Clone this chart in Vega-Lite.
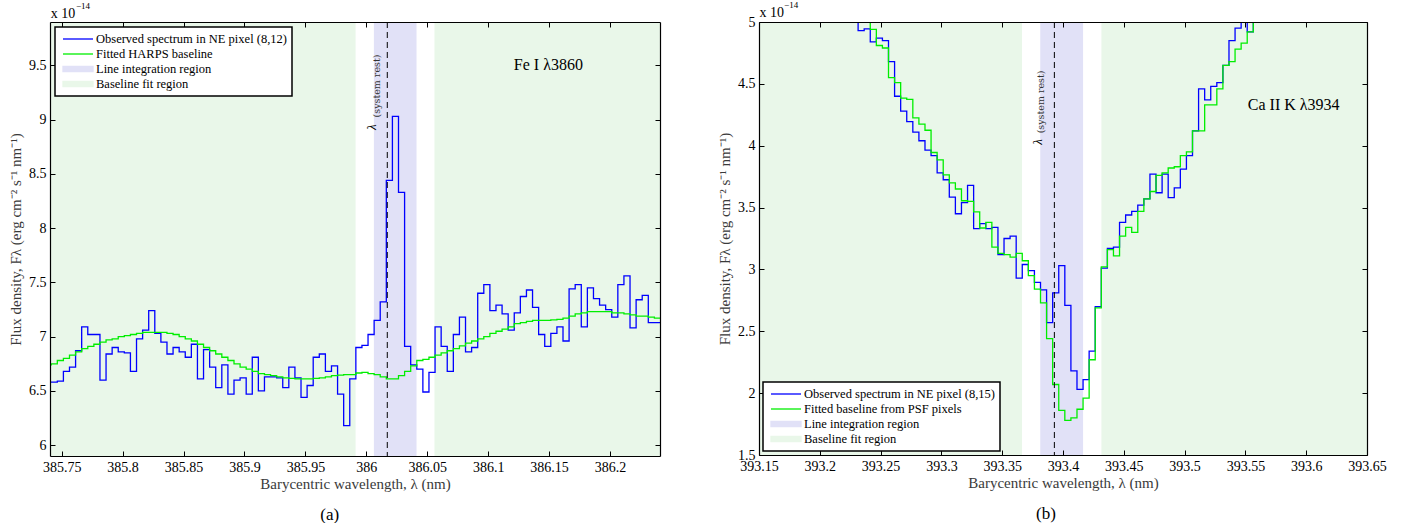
{
  "$schema": "https://vega.github.io/schema/vega-lite/v6.json",
  "background": "white",
  "padding": {"left": 8, "top": 0, "right": 0, "bottom": 0},
  "spacing": 56,
  "resolve": {"scale": {"color": "independent"}, "legend": {"color": "independent"}},
  "config": {
    "font": "Liberation Serif",
    "view": {"stroke": null},
    "axis": {
      "domainColor": "black", "domainWidth": 1.2, "tickColor": "black", "tickWidth": 1, "tickSize": -5,
      "labelColor": "black", "labelFont": "Liberation Serif", "labelFontSize": 14, "labelPadding": 9,
      "labelFlush": false, "labelOverlap": false, "labelBound": false,
      "titleFont": "Liberation Serif", "titleFontSize": 15, "titleFontWeight": "normal", "titleColor": "#3a3a3a",
      "grid": false
    },
    "legend": {
      "padding": 5, "strokeColor": "black", "fillColor": "white", "zindex": 2,
      "labelFont": "Liberation Serif", "labelFontSize": 12.5, "labelColor": "black", "labelLimit": 400,
      "symbolSize": 144, "symbolOffset": 11, "labelOffset": 11, "rowPadding": 1
    },
    "text": {"color": "black", "font": "Liberation Serif"}
  },
  "hconcat": [
    {
      "width": 610,
      "height": 434,
      "resolve": {"axis": {"x": "independent", "y": "independent"}},
      "layer": [
        {
          "data": {"values": [
            {"w": 385.7404, "w2": 385.9912, "r": "base"},
            {"w": 386.0559, "w2": 386.241, "r": "base"},
            {"w": 386.0062, "w2": 386.0412, "r": "int"}
          ]},
          "mark": {"type": "rect"},
          "encoding": {
            "x": {"field": "w", "type": "quantitative", "scale": {"domain": [385.7404, 386.241], "nice": false, "zero": false},
                  "axis": {"orient": "top", "zindex": 1, "labels": false, "title": null, "values": [385.75, 385.8, 385.85, 385.9, 385.95, 386, 386.05, 386.1, 386.15, 386.2]}},
            "x2": {"field": "w2"},
            "color": {"field": "r", "type": "nominal",
              "scale": {"domain": ["obs", "fit", "int", "base"], "range": ["#0000ff", "#00ee00", "#e1e1f7", "#e9f7e9"]},
              "legend": {
                "title": null, "orient": "top-left", "offset": 5,
                "labelExpr": "datum.value === 'obs' ? 'Observed spectrum in NE pixel (8,12)' : datum.value === 'fit' ? 'Fitted HARPS baseline' : datum.value === 'int' ? 'Line integration region' : 'Baseline fit region'",
                "encode": {
                  "legend": {"update": {"strokeWidth": {"value": 1.5}}},
                  "symbols": {"update": {
                    "shape": {"signal": "datum.value === 'obs' || datum.value === 'fit' ? 'M-2.5,0H2.5' : 'M-2.5,-0.45H2.5V0.45H-2.5Z'"},
                    "fill": {"signal": "datum.value === 'int' ? '#e1e1f7' : datum.value === 'base' ? '#e9f7e9' : 'transparent'"},
                    "stroke": {"signal": "datum.value === 'obs' ? '#0000ff' : datum.value === 'fit' ? '#00ee00' : 'transparent'"},
                    "strokeWidth": {"value": 1.3},
                    "opacity": {"value": 1}
                  }}
                }
              }}
          }
        },
        {
          "data": {"values": [
            {"w": 385.7364, "obs": 6.58, "fit": 6.74},
            {"w": 385.7414, "obs": 6.58, "fit": 6.75},
            {"w": 385.7464, "obs": 6.59, "fit": 6.78},
            {"w": 385.7514, "obs": 6.68, "fit": 6.80},
            {"w": 385.7564, "obs": 6.72, "fit": 6.83},
            {"w": 385.7614, "obs": 6.87, "fit": 6.86},
            {"w": 385.7664, "obs": 7.09, "fit": 6.89},
            {"w": 385.7714, "obs": 7.02, "fit": 6.91},
            {"w": 385.7764, "obs": 7.02, "fit": 6.93},
            {"w": 385.7814, "obs": 6.60, "fit": 6.95},
            {"w": 385.7864, "obs": 6.84, "fit": 6.97},
            {"w": 385.7914, "obs": 6.90, "fit": 6.98},
            {"w": 385.7964, "obs": 6.86, "fit": 7.00},
            {"w": 385.8014, "obs": 6.85, "fit": 7.01},
            {"w": 385.8064, "obs": 6.68, "fit": 7.02},
            {"w": 385.8114, "obs": 6.98, "fit": 7.03},
            {"w": 385.8164, "obs": 7.06, "fit": 7.04},
            {"w": 385.8214, "obs": 7.24, "fit": 7.04},
            {"w": 385.8264, "obs": 7.03, "fit": 7.04},
            {"w": 385.8314, "obs": 6.95, "fit": 7.04},
            {"w": 385.8364, "obs": 6.84, "fit": 7.03},
            {"w": 385.8414, "obs": 6.90, "fit": 7.02},
            {"w": 385.8464, "obs": 6.86, "fit": 7.00},
            {"w": 385.8514, "obs": 6.81, "fit": 6.98},
            {"w": 385.8564, "obs": 6.93, "fit": 6.96},
            {"w": 385.8614, "obs": 6.61, "fit": 6.93},
            {"w": 385.8664, "obs": 6.88, "fit": 6.90},
            {"w": 385.8714, "obs": 6.72, "fit": 6.87},
            {"w": 385.8764, "obs": 6.53, "fit": 6.84},
            {"w": 385.8814, "obs": 6.74, "fit": 6.81},
            {"w": 385.8864, "obs": 6.47, "fit": 6.78},
            {"w": 385.8914, "obs": 6.60, "fit": 6.75},
            {"w": 385.8964, "obs": 6.62, "fit": 6.72},
            {"w": 385.9014, "obs": 6.47, "fit": 6.70},
            {"w": 385.9064, "obs": 6.81, "fit": 6.68},
            {"w": 385.9114, "obs": 6.50, "fit": 6.66},
            {"w": 385.9164, "obs": 6.63, "fit": 6.65},
            {"w": 385.9214, "obs": 6.63, "fit": 6.64},
            {"w": 385.9264, "obs": 6.62, "fit": 6.63},
            {"w": 385.9314, "obs": 6.53, "fit": 6.62},
            {"w": 385.9364, "obs": 6.72, "fit": 6.615},
            {"w": 385.9414, "obs": 6.62, "fit": 6.61},
            {"w": 385.9464, "obs": 6.44, "fit": 6.61},
            {"w": 385.9514, "obs": 6.55, "fit": 6.61},
            {"w": 385.9564, "obs": 6.81, "fit": 6.615},
            {"w": 385.9614, "obs": 6.84, "fit": 6.62},
            {"w": 385.9664, "obs": 6.68, "fit": 6.63},
            {"w": 385.9714, "obs": 6.73, "fit": 6.64},
            {"w": 385.9764, "obs": 6.47, "fit": 6.645},
            {"w": 385.9814, "obs": 6.18, "fit": 6.65},
            {"w": 385.9864, "obs": 6.61, "fit": 6.65},
            {"w": 385.9914, "obs": 6.90, "fit": 6.665},
            {"w": 385.9964, "obs": 6.92, "fit": 6.67},
            {"w": 386.0014, "obs": 7.02, "fit": 6.66},
            {"w": 386.0064, "obs": 7.15, "fit": 6.65},
            {"w": 386.0114, "obs": 7.32, "fit": 6.63},
            {"w": 386.0164, "obs": 8.44, "fit": 6.61},
            {"w": 386.0214, "obs": 9.03, "fit": 6.61},
            {"w": 386.0264, "obs": 8.33, "fit": 6.64},
            {"w": 386.0314, "obs": 6.91, "fit": 6.68},
            {"w": 386.0364, "obs": 6.74, "fit": 6.73},
            {"w": 386.0414, "obs": 6.70, "fit": 6.78},
            {"w": 386.0464, "obs": 6.49, "fit": 6.79},
            {"w": 386.0514, "obs": 6.67, "fit": 6.81},
            {"w": 386.0564, "obs": 7.09, "fit": 6.83},
            {"w": 386.0614, "obs": 6.91, "fit": 6.85},
            {"w": 386.0664, "obs": 6.68, "fit": 6.87},
            {"w": 386.0714, "obs": 7.02, "fit": 6.89},
            {"w": 386.0764, "obs": 7.18, "fit": 6.915},
            {"w": 386.0814, "obs": 6.86, "fit": 6.94},
            {"w": 386.0864, "obs": 6.90, "fit": 6.96},
            {"w": 386.0914, "obs": 7.40, "fit": 6.98},
            {"w": 386.0964, "obs": 7.48, "fit": 7.00},
            {"w": 386.1014, "obs": 7.24, "fit": 7.03},
            {"w": 386.1064, "obs": 7.29, "fit": 7.05},
            {"w": 386.1114, "obs": 7.21, "fit": 7.07},
            {"w": 386.1164, "obs": 7.06, "fit": 7.09},
            {"w": 386.1214, "obs": 7.22, "fit": 7.12},
            {"w": 386.1264, "obs": 7.37, "fit": 7.13},
            {"w": 386.1314, "obs": 7.43, "fit": 7.14},
            {"w": 386.1364, "obs": 7.27, "fit": 7.15},
            {"w": 386.1414, "obs": 7.02, "fit": 7.15},
            {"w": 386.1464, "obs": 6.91, "fit": 7.15},
            {"w": 386.1514, "obs": 7.03, "fit": 7.155},
            {"w": 386.1564, "obs": 7.09, "fit": 7.16},
            {"w": 386.1614, "obs": 6.96, "fit": 7.17},
            {"w": 386.1664, "obs": 7.44, "fit": 7.19},
            {"w": 386.1714, "obs": 7.48, "fit": 7.21},
            {"w": 386.1764, "obs": 7.09, "fit": 7.22},
            {"w": 386.1814, "obs": 7.45, "fit": 7.23},
            {"w": 386.1864, "obs": 7.35, "fit": 7.23},
            {"w": 386.1914, "obs": 7.29, "fit": 7.23},
            {"w": 386.1964, "obs": 7.25, "fit": 7.23},
            {"w": 386.2014, "obs": 7.18, "fit": 7.22},
            {"w": 386.2064, "obs": 7.48, "fit": 7.22},
            {"w": 386.2114, "obs": 7.56, "fit": 7.21},
            {"w": 386.2164, "obs": 7.08, "fit": 7.20},
            {"w": 386.2214, "obs": 7.34, "fit": 7.19},
            {"w": 386.2264, "obs": 7.38, "fit": 7.19},
            {"w": 386.2314, "obs": 7.13, "fit": 7.18},
            {"w": 386.2364, "obs": 7.13, "fit": 7.17},
            {"w": 386.2414, "obs": 7.13, "fit": 7.17}
          ]},
          "transform": [{"fold": ["obs", "fit"], "as": ["r", "f"]}],
          "mark": {"type": "line", "interpolate": "step-after", "clip": true, "strokeWidth": 1.3, "strokeJoin": "miter"},
          "encoding": {
            "x": {"field": "w", "type": "quantitative", "scale": {"domain": [385.7404, 386.241], "nice": false, "zero": false},
                  "axis": {"orient": "bottom", "zindex": 1, "title": "Barycentric wavelength, λ  (nm)", "titlePadding": 2, "labelExpr": "datum.value",
                           "values": [385.75, 385.8, 385.85, 385.9, 385.95, 386, 386.05, 386.1, 386.15, 386.2]}},
            "y": {"field": "f", "type": "quantitative", "scale": {"domain": [5.9, 9.9], "nice": false, "zero": false},
                  "axis": {"orient": "left", "zindex": 1, "title": "Flux density, Fλ  (erg cm⁻² s⁻¹ nm⁻¹)", "titlePadding": 5, "labelExpr": "datum.value",
                           "values": [6, 6.5, 7, 7.5, 8, 8.5, 9, 9.5]}},
            "color": {"field": "r", "type": "nominal",
              "scale": {"domain": ["obs", "fit", "int", "base"], "range": ["#0000ff", "#00ee00", "#e1e1f7", "#e9f7e9"]},
              "legend": {
                "title": null, "orient": "top-left", "offset": 5,
                "labelExpr": "datum.value === 'obs' ? 'Observed spectrum in NE pixel (8,12)' : datum.value === 'fit' ? 'Fitted HARPS baseline' : datum.value === 'int' ? 'Line integration region' : 'Baseline fit region'",
                "encode": {
                  "legend": {"update": {"strokeWidth": {"value": 1.5}}},
                  "symbols": {"update": {
                    "shape": {"signal": "datum.value === 'obs' || datum.value === 'fit' ? 'M-2.5,0H2.5' : 'M-2.5,-0.45H2.5V0.45H-2.5Z'"},
                    "fill": {"signal": "datum.value === 'int' ? '#e1e1f7' : datum.value === 'base' ? '#e9f7e9' : 'transparent'"},
                    "stroke": {"signal": "datum.value === 'obs' ? '#0000ff' : datum.value === 'fit' ? '#00ee00' : 'transparent'"},
                    "strokeWidth": {"value": 1.3},
                    "opacity": {"value": 1}
                  }}
                }
              }}
          }
        },
        {
          "data": {"values": [{"w": 386.0172}]},
          "mark": {"type": "rule", "color": "black", "strokeWidth": 1, "strokeDash": [6, 4]},
          "encoding": {"x": {"field": "w", "type": "quantitative", "scale": {"domain": [385.7404, 386.241], "nice": false, "zero": false}, "axis": null}}
        },
        {
          "data": {"values": [{"w": 386.1494, "f": 9.5, "t": "Fe I λ3860"}]},
          "mark": {"type": "text", "fontSize": 16, "align": "center", "baseline": "middle"},
          "encoding": {
            "x": {"field": "w", "type": "quantitative", "scale": {"domain": [385.7404, 386.241], "nice": false, "zero": false}, "axis": null},
            "y": {"field": "f", "type": "quantitative", "scale": {"domain": [5.9, 9.9], "nice": false, "zero": false},
                  "axis": {"orient": "right", "zindex": 1, "labels": false, "title": null, "values": [6, 6.5, 7, 7.5, 8, 8.5, 9, 9.5]}},
            "text": {"field": "t"}
          }
        },
        {
          "data": {"values": [{"w": 386.0047, "f": 8.93, "t": "λ"}]},
          "mark": {"type": "text", "fontSize": 13, "fontStyle": "italic", "angle": 270, "align": "center", "baseline": "middle"},
          "encoding": {
            "x": {"field": "w", "type": "quantitative", "scale": {"domain": [385.7404, 386.241], "nice": false, "zero": false}, "axis": null},
            "y": {"field": "f", "type": "quantitative", "scale": {"domain": [5.9, 9.9], "nice": false, "zero": false}, "axis": null},
            "text": {"field": "t"}
          }
        },
        {
          "data": {"values": [{"w": 386.0085, "f": 9.31, "t": "(system rest)"}]},
          "mark": {"type": "text", "font": "DejaVu Serif", "fontSize": 9.5, "angle": 270, "align": "center", "baseline": "middle", "color": "#333"},
          "encoding": {
            "x": {"field": "w", "type": "quantitative", "scale": {"domain": [385.7404, 386.241], "nice": false, "zero": false}, "axis": null},
            "y": {"field": "f", "type": "quantitative", "scale": {"domain": [5.9, 9.9], "nice": false, "zero": false}, "axis": null},
            "text": {"field": "t"}
          }
        },
        {
          "data": {"values": [{"w": 385.741, "f": 9.974, "t": "x 10"}]},
          "mark": {"type": "text", "fontSize": 14, "align": "left", "baseline": "middle"},
          "encoding": {
            "x": {"field": "w", "type": "quantitative", "scale": {"domain": [385.7404, 386.241], "nice": false, "zero": false}, "axis": null},
            "y": {"field": "f", "type": "quantitative", "scale": {"domain": [5.9, 9.9], "nice": false, "zero": false}, "axis": null},
            "text": {"field": "t"}
          }
        },
        {
          "data": {"values": [{"w": 385.7617, "f": 10.047, "t": "−14"}]},
          "mark": {"type": "text", "fontSize": 9, "align": "left", "baseline": "middle"},
          "encoding": {
            "x": {"field": "w", "type": "quantitative", "scale": {"domain": [385.7404, 386.241], "nice": false, "zero": false}, "axis": null},
            "y": {"field": "f", "type": "quantitative", "scale": {"domain": [5.9, 9.9], "nice": false, "zero": false}, "axis": null},
            "text": {"field": "t"}
          }
        },
        {
          "data": {"values": [{"w": 385.97, "f": 5.357, "t": "(a)"}]},
          "mark": {"type": "text", "fontSize": 17, "align": "center", "baseline": "middle"},
          "encoding": {
            "x": {"field": "w", "type": "quantitative", "scale": {"domain": [385.7404, 386.241], "nice": false, "zero": false}, "axis": null},
            "y": {"field": "f", "type": "quantitative", "scale": {"domain": [5.9, 9.9], "nice": false, "zero": false}, "axis": null},
            "text": {"field": "t"}
          }
        }
      ]
    },
    {
      "width": 608,
      "height": 433,
      "resolve": {"axis": {"x": "independent", "y": "independent"}},
      "layer": [
        {
          "data": {"values": [
            {"w": 393.15, "w2": 393.3663, "r": "base"},
            {"w": 393.4316, "w2": 393.65, "r": "base"},
            {"w": 393.3813, "w2": 393.4165, "r": "int"}
          ]},
          "mark": {"type": "rect"},
          "encoding": {
            "x": {"field": "w", "type": "quantitative", "scale": {"domain": [393.15, 393.65], "nice": false, "zero": false},
                  "axis": {"orient": "top", "zindex": 1, "labels": false, "title": null, "values": [393.15, 393.2, 393.25, 393.3, 393.35, 393.4, 393.45, 393.5, 393.55, 393.6, 393.65]}},
            "x2": {"field": "w2"},
            "color": {"field": "r", "type": "nominal",
              "scale": {"domain": ["obs", "fit", "int", "base"], "range": ["#0000ff", "#00ee00", "#e1e1f7", "#e9f7e9"]},
              "legend": {
                "title": null, "orient": "bottom-left", "offset": 4,
                "labelExpr": "datum.value === 'obs' ? 'Observed spectrum in NE pixel (8,15)' : datum.value === 'fit' ? 'Fitted baseline from PSF pixels' : datum.value === 'int' ? 'Line integration region' : 'Baseline fit region'",
                "encode": {
                  "legend": {"update": {"strokeWidth": {"value": 1.5}}},
                  "symbols": {"update": {
                    "shape": {"signal": "datum.value === 'obs' || datum.value === 'fit' ? 'M-2.5,0H2.5' : 'M-2.5,-0.45H2.5V0.45H-2.5Z'"},
                    "fill": {"signal": "datum.value === 'int' ? '#e1e1f7' : datum.value === 'base' ? '#e9f7e9' : 'transparent'"},
                    "stroke": {"signal": "datum.value === 'obs' ? '#0000ff' : datum.value === 'fit' ? '#00ee00' : 'transparent'"},
                    "strokeWidth": {"value": 1.3},
                    "opacity": {"value": 1}
                  }}
                }
              }}
          }
        },
        {
          "data": {"values": [
            {"w": 393.2265, "obs": 5.10, "fit": 5.15},
            {"w": 393.2315, "obs": 4.93, "fit": 5.10},
            {"w": 393.2365, "obs": 4.945, "fit": 5.04},
            {"w": 393.2415, "obs": 4.84, "fit": 4.94},
            {"w": 393.2465, "obs": 4.87, "fit": 4.81},
            {"w": 393.2515, "obs": 4.85, "fit": 4.79},
            {"w": 393.2565, "obs": 4.68, "fit": 4.55},
            {"w": 393.2615, "obs": 4.40, "fit": 4.51},
            {"w": 393.2665, "obs": 4.28, "fit": 4.385},
            {"w": 393.2715, "obs": 4.195, "fit": 4.375},
            {"w": 393.2765, "obs": 4.11, "fit": 4.225},
            {"w": 393.2815, "obs": 4.04, "fit": 4.175},
            {"w": 393.2865, "obs": 3.965, "fit": 4.125},
            {"w": 393.2915, "obs": 3.92, "fit": 3.945},
            {"w": 393.2965, "obs": 3.78, "fit": 3.885},
            {"w": 393.3015, "obs": 3.725, "fit": 3.765},
            {"w": 393.3065, "obs": 3.585, "fit": 3.70},
            {"w": 393.3115, "obs": 3.45, "fit": 3.65},
            {"w": 393.3165, "obs": 3.54, "fit": 3.555},
            {"w": 393.3215, "obs": 3.68, "fit": 3.55},
            {"w": 393.3265, "obs": 3.33, "fit": 3.465},
            {"w": 393.3315, "obs": 3.37, "fit": 3.335},
            {"w": 393.3365, "obs": 3.33, "fit": 3.38},
            {"w": 393.3415, "obs": 3.34, "fit": 3.18},
            {"w": 393.3465, "obs": 3.12, "fit": 3.13},
            {"w": 393.3515, "obs": 3.25, "fit": 3.12},
            {"w": 393.3565, "obs": 3.27, "fit": 3.10},
            {"w": 393.3615, "obs": 2.93, "fit": 3.13},
            {"w": 393.3665, "obs": 3.04, "fit": 3.07},
            {"w": 393.3715, "obs": 2.99, "fit": 2.95},
            {"w": 393.3765, "obs": 2.895, "fit": 2.84},
            {"w": 393.3815, "obs": 2.835, "fit": 2.73},
            {"w": 393.3865, "obs": 2.57, "fit": 2.44},
            {"w": 393.3915, "obs": 2.81, "fit": 2.07},
            {"w": 393.3965, "obs": 3.03, "fit": 1.86},
            {"w": 393.4015, "obs": 2.71, "fit": 1.78},
            {"w": 393.4065, "obs": 2.18, "fit": 1.80},
            {"w": 393.4115, "obs": 2.03, "fit": 1.87},
            {"w": 393.4165, "obs": 2.11, "fit": 1.96},
            {"w": 393.4215, "obs": 2.34, "fit": 2.27},
            {"w": 393.4265, "obs": 2.70, "fit": 2.69},
            {"w": 393.4315, "obs": 3.01, "fit": 3.02},
            {"w": 393.4365, "obs": 3.17, "fit": 3.16},
            {"w": 393.4415, "obs": 3.18, "fit": 3.11},
            {"w": 393.4465, "obs": 3.38, "fit": 3.27},
            {"w": 393.4515, "obs": 3.44, "fit": 3.34},
            {"w": 393.4565, "obs": 3.47, "fit": 3.30},
            {"w": 393.4615, "obs": 3.52, "fit": 3.47},
            {"w": 393.4665, "obs": 3.57, "fit": 3.57},
            {"w": 393.4715, "obs": 3.77, "fit": 3.63},
            {"w": 393.4765, "obs": 3.62, "fit": 3.76},
            {"w": 393.4815, "obs": 3.77, "fit": 3.78},
            {"w": 393.4865, "obs": 3.58, "fit": 3.82},
            {"w": 393.4915, "obs": 3.66, "fit": 3.83},
            {"w": 393.4965, "obs": 3.81, "fit": 3.92},
            {"w": 393.5015, "obs": 3.92, "fit": 3.95},
            {"w": 393.5065, "obs": 4.12, "fit": 4.12},
            {"w": 393.5115, "obs": 4.46, "fit": 4.12},
            {"w": 393.5165, "obs": 4.37, "fit": 4.33},
            {"w": 393.5215, "obs": 4.48, "fit": 4.33},
            {"w": 393.5265, "obs": 4.51, "fit": 4.46},
            {"w": 393.5315, "obs": 4.65, "fit": 4.65},
            {"w": 393.5365, "obs": 4.85, "fit": 4.68},
            {"w": 393.5415, "obs": 4.95, "fit": 4.78},
            {"w": 393.5465, "obs": 5.03, "fit": 4.83},
            {"w": 393.5515, "obs": 4.92, "fit": 4.92},
            {"w": 393.5565, "obs": 5.05, "fit": 5.05},
            {"w": 393.5615, "obs": 5.10, "fit": 5.10}
          ]},
          "transform": [{"fold": ["obs", "fit"], "as": ["r", "f"]}],
          "mark": {"type": "line", "interpolate": "step-after", "clip": true, "strokeWidth": 1.3, "strokeJoin": "miter"},
          "encoding": {
            "x": {"field": "w", "type": "quantitative", "scale": {"domain": [393.15, 393.65], "nice": false, "zero": false},
                  "axis": {"orient": "bottom", "zindex": 1, "title": "Barycentric wavelength, λ  (nm)", "titlePadding": 2, "labelExpr": "datum.value",
                           "values": [393.15, 393.2, 393.25, 393.3, 393.35, 393.4, 393.45, 393.5, 393.55, 393.6, 393.65]}},
            "y": {"field": "f", "type": "quantitative", "scale": {"domain": [1.5, 5], "nice": false, "zero": false},
                  "axis": {"orient": "left", "zindex": 1, "title": "Flux density, Fλ  (erg cm⁻² s⁻¹ nm⁻¹)", "titlePadding": 5, "labelExpr": "datum.value",
                           "values": [1.5, 2, 2.5, 3, 3.5, 4, 4.5, 5]}},
            "color": {"field": "r", "type": "nominal",
              "scale": {"domain": ["obs", "fit", "int", "base"], "range": ["#0000ff", "#00ee00", "#e1e1f7", "#e9f7e9"]},
              "legend": {
                "title": null, "orient": "bottom-left", "offset": 4,
                "labelExpr": "datum.value === 'obs' ? 'Observed spectrum in NE pixel (8,15)' : datum.value === 'fit' ? 'Fitted baseline from PSF pixels' : datum.value === 'int' ? 'Line integration region' : 'Baseline fit region'",
                "encode": {
                  "legend": {"update": {"strokeWidth": {"value": 1.5}}},
                  "symbols": {"update": {
                    "shape": {"signal": "datum.value === 'obs' || datum.value === 'fit' ? 'M-2.5,0H2.5' : 'M-2.5,-0.45H2.5V0.45H-2.5Z'"},
                    "fill": {"signal": "datum.value === 'int' ? '#e1e1f7' : datum.value === 'base' ? '#e9f7e9' : 'transparent'"},
                    "stroke": {"signal": "datum.value === 'obs' ? '#0000ff' : datum.value === 'fit' ? '#00ee00' : 'transparent'"},
                    "strokeWidth": {"value": 1.3},
                    "opacity": {"value": 1}
                  }}
                }
              }}
          }
        },
        {
          "data": {"values": [{"w": 393.3929}]},
          "mark": {"type": "rule", "color": "black", "strokeWidth": 1, "strokeDash": [6, 4]},
          "encoding": {"x": {"field": "w", "type": "quantitative", "scale": {"domain": [393.15, 393.65], "nice": false, "zero": false}, "axis": null}}
        },
        {
          "data": {"values": [{"w": 393.5897, "f": 4.33, "t": "Ca II K λ3934"}]},
          "mark": {"type": "text", "fontSize": 16, "align": "center", "baseline": "middle"},
          "encoding": {
            "x": {"field": "w", "type": "quantitative", "scale": {"domain": [393.15, 393.65], "nice": false, "zero": false}, "axis": null},
            "y": {"field": "f", "type": "quantitative", "scale": {"domain": [1.5, 5], "nice": false, "zero": false},
                  "axis": {"orient": "right", "zindex": 1, "labels": false, "title": null, "values": [1.5, 2, 2.5, 3, 3.5, 4, 4.5, 5]}},
            "text": {"field": "t"}
          }
        },
        {
          "data": {"values": [{"w": 393.3797, "f": 4.03, "t": "λ"}]},
          "mark": {"type": "text", "fontSize": 13, "fontStyle": "italic", "angle": 270, "align": "center", "baseline": "middle"},
          "encoding": {
            "x": {"field": "w", "type": "quantitative", "scale": {"domain": [393.15, 393.65], "nice": false, "zero": false}, "axis": null},
            "y": {"field": "f", "type": "quantitative", "scale": {"domain": [1.5, 5], "nice": false, "zero": false}, "axis": null},
            "text": {"field": "t"}
          }
        },
        {
          "data": {"values": [{"w": 393.3823, "f": 4.354, "t": "(system rest)"}]},
          "mark": {"type": "text", "font": "DejaVu Serif", "fontSize": 9.5, "angle": 270, "align": "center", "baseline": "middle", "color": "#333"},
          "encoding": {
            "x": {"field": "w", "type": "quantitative", "scale": {"domain": [393.15, 393.65], "nice": false, "zero": false}, "axis": null},
            "y": {"field": "f", "type": "quantitative", "scale": {"domain": [1.5, 5], "nice": false, "zero": false}, "axis": null},
            "text": {"field": "t"}
          }
        },
        {
          "data": {"values": [{"w": 393.1505, "f": 5.073, "t": "x 10"}]},
          "mark": {"type": "text", "fontSize": 14, "align": "left", "baseline": "middle"},
          "encoding": {
            "x": {"field": "w", "type": "quantitative", "scale": {"domain": [393.15, 393.65], "nice": false, "zero": false}, "axis": null},
            "y": {"field": "f", "type": "quantitative", "scale": {"domain": [1.5, 5], "nice": false, "zero": false}, "axis": null},
            "text": {"field": "t"}
          }
        },
        {
          "data": {"values": [{"w": 393.1706, "f": 5.14, "t": "−14"}]},
          "mark": {"type": "text", "fontSize": 9, "align": "left", "baseline": "middle"},
          "encoding": {
            "x": {"field": "w", "type": "quantitative", "scale": {"domain": [393.15, 393.65], "nice": false, "zero": false}, "axis": null},
            "y": {"field": "f", "type": "quantitative", "scale": {"domain": [1.5, 5], "nice": false, "zero": false}, "axis": null},
            "text": {"field": "t"}
          }
        },
        {
          "data": {"values": [{"w": 393.386, "f": 1.022, "t": "(b)"}]},
          "mark": {"type": "text", "fontSize": 17, "align": "center", "baseline": "middle"},
          "encoding": {
            "x": {"field": "w", "type": "quantitative", "scale": {"domain": [393.15, 393.65], "nice": false, "zero": false}, "axis": null},
            "y": {"field": "f", "type": "quantitative", "scale": {"domain": [1.5, 5], "nice": false, "zero": false}, "axis": null},
            "text": {"field": "t"}
          }
        }
      ]
    }
  ]
}
